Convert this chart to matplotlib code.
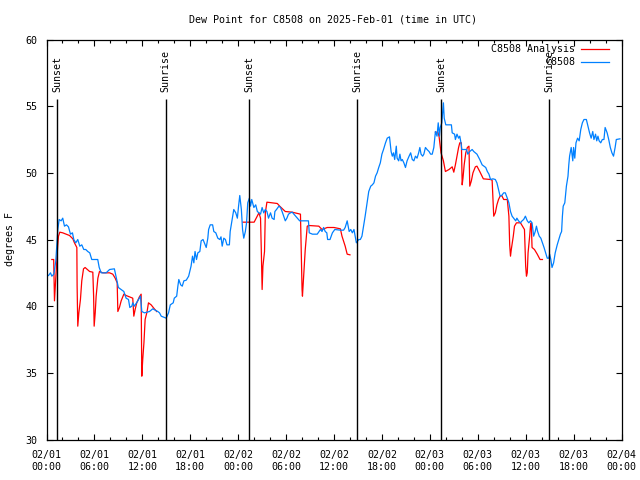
import numpy as np
import matplotlib
matplotlib.use("Agg")
import matplotlib.pyplot as plt
import matplotlib.dates as mdates

plt.rcdefaults()
plt.rcParams["font.family"] = ["DejaVu Sans Mono"]
plt.rcParams["font.size"] = 7.2

START = np.datetime64("2025-02-01T00:00")

# station obs, hours after 02/01 00:00 UTC and dew point (F)
obs_hours = [
    0.25, 0.5, 0.67, 0.92, 1.17, 1.42, 1.58, 1.83, 2.04, 2.25, 2.5, 2.75, 3.0, 3.25, 3.42,
    3.67, 3.92, 4.17, 4.42, 4.67, 4.92, 5.17, 5.42, 5.67, 6.42, 6.6, 6.85, 7.47, 7.9, 8.5,
    8.7, 9.0, 9.35, 9.68, 9.97, 10.27, 10.43, 10.68, 10.8, 11.0, 11.44, 11.77, 11.94, 12.27,
    12.9, 13.3, 13.94, 14.15, 14.36, 14.99, 15.28, 15.5, 15.86, 16.0, 16.3, 16.45, 16.57,
    16.8, 17.0, 17.2, 17.5, 17.8, 18.1, 18.28, 18.45, 18.6, 18.78, 18.95, 19.2, 19.37, 19.6,
    19.87, 20.0, 20.2, 20.3, 20.5, 20.8, 20.95, 21.2, 21.45, 21.7, 21.85, 22.0, 22.2, 22.4,
    22.6, 22.9, 23.0, 23.25, 23.45, 23.7, 23.9, 24.05, 24.2, 24.4, 24.55, 24.7, 24.9, 25.05,
    25.2, 25.4, 25.55, 25.7, 25.96, 26.2, 26.4, 26.6, 26.8, 27.0, 27.2, 27.4, 27.6, 27.8,
    28.05, 28.25, 28.5, 28.6, 28.8, 29.1, 29.3, 29.5, 29.7, 29.9, 30.1, 30.3, 30.55, 30.76,
    31.2, 31.5, 31.7, 32.8, 32.9, 33.3, 33.9, 34.3, 34.5, 34.7, 34.9, 35.1, 35.2, 35.5, 35.8,
    36.1, 36.8, 37.2, 37.4, 37.65, 37.9, 38.1, 38.3, 38.5, 38.7, 38.8, 39.1, 39.3, 39.5, 39.7,
    39.9, 40.15, 40.35, 40.6, 40.8, 41.0, 41.2, 41.4, 41.6, 41.8, 42.0, 42.2, 42.45, 42.66,
    42.95, 43.15, 43.3, 43.45, 43.6, 43.8, 43.9, 44.1, 44.25, 44.4, 44.55, 44.75, 44.95,
    45.15, 45.4, 45.6, 45.8, 46.0, 46.2, 46.4, 46.6, 46.75, 46.9, 47.1, 47.25, 47.45, 47.65,
    47.9, 48.1, 48.3, 48.5, 48.6, 48.7, 48.9, 49.05, 49.2, 49.3, 49.5, 49.7, 49.8, 50.0,
    50.7, 50.8, 51.1, 51.2, 51.4, 51.6, 51.75, 51.9, 52.0, 52.6, 52.75, 53.0, 53.3, 53.5,
    53.7, 53.9, 54.25, 54.55, 55.0, 55.2, 55.4, 55.6, 55.9, 56.2, 56.4, 56.6, 56.8, 57.0,
    57.25, 57.45, 57.7, 57.9, 58.1, 58.3, 58.5, 58.75, 58.9, 59.1, 59.35, 59.55, 59.75,
    59.97, 60.2, 60.4, 60.6, 60.8, 61.0, 61.2, 61.35, 61.5, 61.7, 61.9, 62.1, 62.3, 62.5,
    62.7, 62.9, 63.0, 63.15, 63.3, 63.5, 63.7, 63.95, 64.15, 64.35, 64.5, 64.6, 64.7, 64.9,
    65.0, 65.1, 65.3, 65.4, 65.5, 65.7, 65.9, 66.0, 66.15, 66.3, 66.5, 66.7, 66.9, 67.1,
    67.3, 67.6, 67.8, 68.0, 68.2, 68.4, 68.55, 68.75, 68.9, 69.05, 69.2, 69.4, 69.6, 69.8,
    69.95, 70.2, 70.4, 70.6, 70.8, 71.0, 71.2, 71.35, 71.8,
]
obs_dewpt = [
    42.3, 42.5, 42.25, 42.4, 43.4, 45.75, 46.5, 46.4, 46.6, 46.0, 46.1, 45.95, 45.4, 45.5, 45.0,
    44.75, 45.0, 44.5, 44.6, 44.25, 44.25, 44.1, 44.0, 43.5, 43.5, 42.9, 42.5, 42.5, 42.75, 42.8,
    42.25, 41.4, 41.25, 41.1, 40.6, 40.5, 39.9, 40.0, 40.25, 40.0, 40.4, 40.75, 39.6, 39.5,
    39.6, 39.8, 39.6, 39.5, 39.25, 39.1, 39.5, 40.1, 40.25, 40.6, 40.75, 41.5, 42.0,
    41.6, 41.5, 41.9, 41.95, 42.25, 43.0, 43.75, 43.25, 44.1, 43.5, 44.0, 44.1, 44.9, 45.0,
    44.6, 44.4, 45.1, 45.75, 46.1, 46.1, 45.6, 45.5, 45.1, 45.0, 45.2, 44.5, 45.1, 45.0,
    44.6, 44.6, 45.6, 46.5, 47.25, 47.0, 46.6, 47.5, 48.3, 47.25, 45.75, 45.1, 45.6, 46.25,
    47.75, 48.1, 47.5, 48.0, 47.4, 47.6, 47.1, 47.0, 46.9, 47.4, 47.0, 47.25, 47.1, 46.6,
    47.0, 46.6, 46.5, 47.1, 47.25, 47.5, 47.4, 47.1, 46.75, 46.4, 46.6, 46.9, 47.0, 47.05,
    46.75, 46.55, 46.4, 46.4, 45.5, 45.4, 45.4, 45.75, 45.6, 45.9, 45.6, 45.5, 45.0, 45.0, 45.5,
    45.75, 45.7, 45.7, 45.9, 46.4, 45.6, 45.75, 45.5, 45.75, 45.1, 44.75, 45.0, 45.0, 45.25, 46.0,
    46.75, 47.75, 48.6, 49.0, 49.1, 49.25, 49.75, 50.0, 50.4, 50.75, 51.4, 51.75, 52.25, 52.6,
    52.7, 51.6, 51.25, 51.5, 51.0, 52.0, 51.1, 50.9, 51.4, 50.9, 51.0, 50.75, 50.4,
    50.9, 51.25, 51.5, 51.0, 50.9, 51.25, 51.1, 51.5, 51.9, 51.4, 51.25, 51.4, 51.9, 51.75,
    51.6, 51.4, 51.4, 51.9, 52.5, 53.1, 52.75, 53.75, 52.75, 53.4, 53.75, 55.25, 54.1, 53.6,
    53.6, 53.0, 52.9, 52.5, 52.9, 52.6, 52.75, 52.25, 51.75, 51.75, 51.4, 51.6, 51.75, 51.6,
    51.5, 51.4, 51.0, 50.6, 50.4, 50.1, 49.9, 49.5, 49.55, 49.5, 49.25, 48.75, 48.25, 48.3,
    48.5, 48.5, 48.1, 47.75, 47.1, 46.75, 46.6, 46.4, 46.6, 46.4, 46.25, 46.4, 46.5,
    46.75, 46.4, 46.25, 46.4, 46.25, 45.25, 45.6, 46.0, 45.6, 45.25, 45.1, 44.75, 44.4, 44.0,
    43.6, 43.6, 43.9, 43.5, 42.9, 43.25, 44.0, 44.6, 45.0, 45.4, 45.6, 46.75, 47.5, 47.75,
    48.4, 49.0, 49.75, 50.6, 51.25, 51.9, 50.9, 51.9, 51.1, 52.25, 52.6, 52.4, 53.25, 53.75,
    54.0, 54.0, 53.5, 53.0, 52.6, 53.1, 52.5, 52.9, 52.4, 52.75, 52.4, 52.25, 52.5, 52.5,
    53.4, 53.0, 52.5, 51.9, 51.5, 51.25, 51.9, 52.5, 52.55,
]

# analysis, NaN marks the gaps
ana_hours = [
    0.67, 0.9, 1.0, 1.1, 1.2, 1.4, 1.5, 1.67, 2.04, 2.46, 2.88, 3.3, 3.5, 3.8, 3.83, 3.92,
    4.05, 4.25, 4.42, 4.63, 4.84, 5.4, 5.8, 5.9, 5.97, 6.1, 6.22, 6.43, 6.64, 7.05, 7.9, 8.3,
    8.6, 8.85, 8.93, 9.14, 9.35, 9.68, 9.97, 10.4, 10.8, 10.93, 11.1, 11.3, 11.64, 11.85,
    11.94, 12.05, 12.2, 12.35, 12.6, 12.77, 13.1, 13.5, 13.8,
    19.0,
    24.6, 26.0, 26.6, 26.8, 26.9, 27.0, 27.1, 27.3, 27.4, 27.6, 28.3, 28.9, 29.2, 29.9,
    30.75, 31.8, 31.9, 32.0, 32.05, 32.2, 32.4, 32.65, 32.85, 34.1, 34.5, 35.15, 36.0, 36.8,
    37.0, 37.4, 37.65, 38.0,
    43.0,
    48.7, 49.0, 49.15, 49.4, 49.7, 49.95, 50.4, 50.8, 51.0, 51.2, 51.4, 51.6, 51.75, 51.95,
    52.05, 52.15, 52.3, 52.5, 52.7, 52.9, 53.0, 53.2, 53.4, 53.7, 53.9, 54.25, 54.7, 55.6,
    55.8, 56.0, 56.2, 56.4, 56.6, 56.8, 57.0, 57.25, 57.7, 57.9, 58.0, 58.1, 58.2, 58.45,
    58.6, 58.85, 59.35, 59.85, 60.0, 60.1, 60.2, 60.3, 60.5, 60.6, 60.7, 60.8, 61.1, 61.45,
    61.8, 62.1,
]
ana_dewpt = [
    43.5, 43.5, 40.4, 41.5, 42.5, 44.5, 45.25, 45.55, 45.5, 45.4, 45.3, 45.05, 44.75, 44.4, 41.5, 38.5,
    39.5, 40.5, 41.9, 42.8, 42.9, 42.6, 42.55, 40.75, 38.5, 39.5, 40.75, 42.1, 42.6, 42.5, 42.5, 42.4,
    42.1, 41.75, 39.6, 39.9, 40.4, 40.9, 40.8, 40.7, 40.6, 39.25, 39.75, 40.25, 40.7, 40.9,
    34.75, 36.0, 37.25, 39.0, 39.6, 40.25, 40.1, 39.8, 39.6,
    np.nan,
    46.3, 46.3, 47.0, 46.6, 44.1, 41.25, 43.0, 44.1, 47.0, 47.8, 47.75, 47.7, 47.5, 47.1,
    47.05, 46.9, 44.25, 41.25, 40.75, 42.25, 44.25, 46.0, 46.05, 46.0, 45.75, 45.9, 45.9, 45.8,
    45.25, 44.5, 43.9, 43.85,
    np.nan,
    53.05, 53.05, 52.75, 51.5, 50.9, 50.1, 50.25, 50.45, 50.05, 50.6, 51.25, 51.9, 52.25, 52.25,
    49.1, 49.6, 50.6, 51.5, 51.9, 52.0, 49.0, 49.4, 50.0, 50.45, 50.5, 50.1, 49.55, 49.5,
    49.45, 46.75, 47.0, 47.6, 48.0, 48.25, 48.3, 48.0, 48.0, 46.75, 44.6, 43.75, 44.25, 45.25,
    46.0, 46.25, 46.25, 45.75, 43.0, 42.25, 42.5, 44.0, 45.25, 46.0, 46.25, 44.4, 44.25, 43.9,
    43.5, 43.5,
]

sun_hours = [1.3, 14.93, 25.37, 38.87, 49.38, 62.93]
sun_names = ["Sunset", "Sunrise", "Sunset", "Sunrise", "Sunset", "Sunrise"]


def to_time(hours):
    mins = np.round(np.asarray(hours) * 60).astype(int)
    return START + mins.astype("timedelta64[m]")


fig = plt.figure(figsize=(6.4, 4.8), dpi=100)
ax = fig.add_axes([46.5 / 640, 40.5 / 480, 575 / 640, 400 / 480])

ax.plot(to_time(ana_hours), ana_dewpt, color="#ff0000", lw=0.9)
ax.plot(to_time(obs_hours), obs_dewpt, color="#0080ff", lw=0.9)

for h, name in zip(sun_hours, sun_names):
    t = to_time([h])[0]
    ax.vlines(t, 30, 55.55, color="black", lw=1.0)
    ax.text(t, 56.05, name, rotation=90, ha="center", va="bottom")

ax.set_xlim(START, START + np.timedelta64(72, "h"))
ax.set_ylim(30, 60)
ax.set_yticks(np.arange(30, 61, 5))

ax.xaxis.set_major_locator(mdates.HourLocator(byhour=[0, 6, 12, 18]))
ax.xaxis.set_minor_locator(mdates.HourLocator(byhour=range(0, 24, 2)))
ax.xaxis.set_major_formatter(mdates.DateFormatter("%m/%d\n%H:%M"))

ax.tick_params(which="both", direction="in", top=True, right=True, width=0.8)
ax.tick_params(which="major", length=4.3)
ax.tick_params(which="minor", length=2.2)
ax.tick_params(axis="x", pad=7.5)
ax.tick_params(axis="y", pad=6.5)
for lab in ax.get_xticklabels():
    lab.set_linespacing(1.25)
for sp in ax.spines.values():
    sp.set_linewidth(0.9)

ax.set_ylabel("degrees F")
ax.yaxis.set_label_coords(-0.054, 0.5)

# legend drawn gnuplot style: text right aligned, sample on the right
for i, (label, col) in enumerate([("C8508 Analysis", "#ff0000"), ("C8508", "#0080ff")]):
    yy = 0.976 - i * 0.0325
    ax.text(0.919, yy, label, transform=ax.transAxes, ha="right", va="center")
    ax.plot([0.93, 0.978], [yy, yy], transform=ax.transAxes, color=col, lw=0.9)

fig.text(0.52, 1 - 19 / 480, "Dew Point for C8508 on 2025-Feb-01 (time in UTC)",
         ha="center", va="center")

fig.savefig("out.png", dpi=100)
